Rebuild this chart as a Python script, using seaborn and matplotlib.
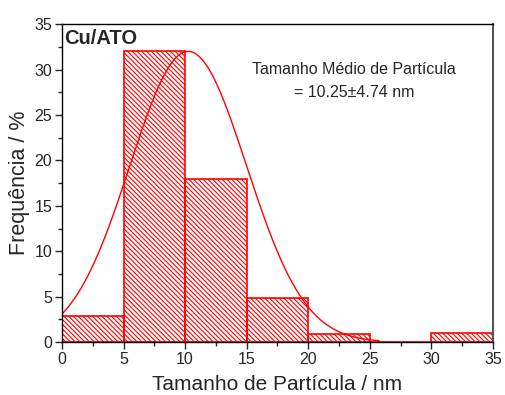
import numpy as np
import pandas as pd
import matplotlib
matplotlib.use("Agg")
import matplotlib.pyplot as plt
import seaborn as sns
from matplotlib.ticker import MultipleLocator

# Histogram bins (nm) and frequency (%) per bin
bin_edges = [0, 5, 10, 15, 20, 25, 30, 35]
frequencia = [2.9, 32.0, 18.0, 4.9, 0.9, 0.0, 1.0]

# Gaussian fit parameters
media = 10.25
desvio = 4.74
pico = 32.0
x_fim_ajuste = 25.75

x_ticks = [0, 5, 10, 15, 20, 25, 30, 35]
y_ticks = [0, 5, 10, 15, 20, 25, 30, 35]

sns.set_style("white")
plt.rcParams["font.family"] = ["Liberation Sans", "DejaVu Sans"]
plt.rcParams["hatch.linewidth"] = 0.8
plt.rcParams["hatch.color"] = "red"

centros = [(a + b) / 2 for a, b in zip(bin_edges[:-1], bin_edges[1:])]
df = pd.DataFrame({"centro": centros, "freq": frequencia})

fig = plt.figure(figsize=(5.05, 3.95), dpi=100)
ax = fig.add_axes([0.1228, 0.134, 0.8532, 0.805])

sns.histplot(data=df, x="centro", weights="freq", bins=bin_edges, ax=ax,
             fill=True, facecolor="none", edgecolor="red", linewidth=1.2)
for p in ax.patches:
    p.set_hatch("\\" * 7)
    p.set_facecolor("none")
    p.set_edgecolor("red")

xs = np.linspace(0, x_fim_ajuste, 300)
ys = pico * np.exp(-((xs - media) ** 2) / (2 * desvio ** 2))
sns.lineplot(x=xs, y=ys, ax=ax, color="red", linewidth=1.0)

ax.set_xlim(0, 35)
ax.set_ylim(0, 35)
ax.set_xticks(x_ticks)
ax.set_yticks(y_ticks)
ax.xaxis.set_minor_locator(MultipleLocator(2.5))
ax.yaxis.set_minor_locator(MultipleLocator(2.5))
ax.tick_params(which="major", direction="out", length=5, width=1, labelsize=11.5,
               bottom=True, left=True, top=False, right=False, pad=2)
ax.tick_params(which="minor", direction="out", length=3, width=1,
               bottom=True, left=True, top=False, right=False)
for s in ax.spines.values():
    s.set_color("black")
    s.set_linewidth(1.0)
ax.spines["right"].set_color("#555555")
ax.spines["right"].set_linewidth(1.5)

ax.set_xlabel("Tamanho de Partícula / nm", fontsize=15, labelpad=6)
ax.set_ylabel("Frequência / %", fontsize=15.5, labelpad=3)

ax.text(0.004, 0.955, "Cu/ATO", transform=ax.transAxes, fontsize=14.5,
        fontweight="bold", ha="left", va="center")
ax.text(0.678, 0.822, "Tamanho Médio de Partícula\n= 10.25\u00b14.74 nm",
        transform=ax.transAxes, fontsize=11.5, ha="center", va="center",
        linespacing=1.65)

fig.savefig("out.png", dpi=100)
